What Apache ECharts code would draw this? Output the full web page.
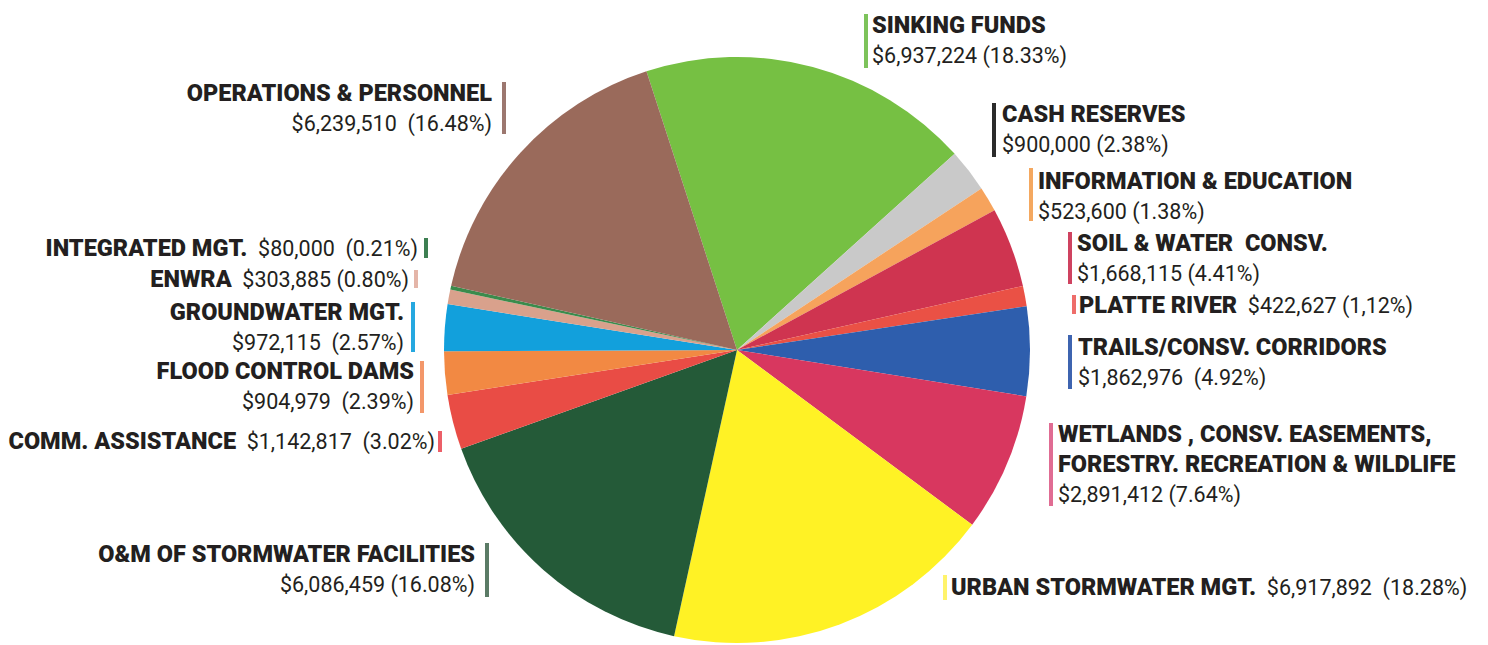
<!DOCTYPE html>
<html>
<head>
<meta charset="utf-8">
<script src="https://cdn.jsdelivr.net/npm/echarts@6/dist/echarts.min.js"></script>
<style>
html,body{margin:0;padding:0;background:#fff;}
#chart{width:1488px;height:645px;}
</style>
</head>
<body>
<div id="chart"></div>
<script>
// ---- data ----
const categories = [
  "SINKING FUNDS",
  "CASH RESERVES",
  "INFORMATION & EDUCATION",
  "SOIL & WATER  CONSV.",
  "PLATTE RIVER",
  "TRAILS/CONSV. CORRIDORS",
  "WETLANDS , CONSV. EASEMENTS,\nFORESTRY. RECREATION & WILDLIFE",
  "URBAN STORMWATER MGT.",
  "O&M OF STORMWATER FACILITIES",
  "COMM. ASSISTANCE",
  "FLOOD CONTROL DAMS",
  "GROUNDWATER MGT.",
  "ENWRA",
  "INTEGRATED MGT.",
  "OPERATIONS & PERSONNEL"
];
const amounts = [6937224, 900000, 523600, 1668115, 422627, 1862976, 2891412, 6917892, 6086459, 1142817, 904979, 972115, 303885, 80000, 6239510];
const percentLabels = ["18.33%", "2.38%", "1.38%", "4.41%", "1,12%", "4.92%", "7.64%", "18.28%", "16.08%", "3.02%", "2.39%", "2.57%", "0.80%", "0.21%", "16.48%"];
// whether the name and amount share one line
const singleLine = [false, false, false, false, true, false, false, true, false, true, false, false, true, true, false];
// gap between amount and percent as printed
const amountGaps = [" ", " ", " ", " ", " ", "  ", " ", "  ", " ", "  ", "  ", "  ", " ", "  ", "  "];

// ---- styles ----
const sliceColors = ["#76c043", "#c9c9c9", "#f6a35c", "#cf3450", "#ea5145", "#2e5ead", "#d8375f", "#fff225", "#245a38", "#e94c45", "#f28943", "#12a0dc", "#d9a18c", "#3b8b4c", "#9a6a5b"];
const barColors = ["#7dc35b", "#2b2b2b", "#f4a860", "#cf4360", "#ee6d6a", "#3e64b0", "#e06c93", "#fff36b", "#5b7b66", "#ec5f68", "#f3976a", "#26a8e0", "#e4b5a8", "#3d7f52", "#9c776f"];
// label layout: [textX, textCenterY, align, barX, barTop, barBottom]
const labelLayouts = [
  [872, 40, "left", 866, 14, 68],
  [1002, 129, "left", 994, 103, 157],
  [1038, 196, "left", 1031, 168, 221],
  [1077, 258, "left", 1070, 232, 284],
  [1079, 305, "left", 1074, 295, 314],
  [1078, 362, "left", 1070, 335, 389],
  [1058, 464, "left", 1051, 423, 506],
  [951, 587, "left", 945, 575, 600],
  [475, 569, "right", 487, 543, 597],
  [435, 441, "right", 440, 431, 452],
  [414, 386, "right", 422, 361, 413],
  [404, 327, "right", 413, 302, 352],
  [409, 279, "right", 416, 270, 288],
  [418, 248, "right", 426, 238, 258],
  [492, 108, "right", 504, 82, 134]
];

const fmt = n => "$" + n.toLocaleString("en-US");

const seriesData = categories.map((name, i) => ({
  name: name,
  value: amounts[i],
  itemStyle: { color: sliceColors[i] },
  labelLine: { lineStyle: { color: barColors[i] } }
}));

const chart = echarts.init(document.getElementById("chart"), null, { renderer: "svg" });
chart.setOption({
  backgroundColor: "#ffffff",
  animation: false,
  series: [{
    type: "pie",
    center: [737, 350],
    radius: 293,
    startAngle: 108,
    clockwise: true,
    avoidLabelOverlap: false,
    data: seriesData,
    label: {
      show: true,
      position: "outside",
      formatter: p => {
        const i = p.dataIndex;
        const title = categories[i].split("\n").map(s => "{t|" + s + "}").join("\n");
        const val = "{v|" + fmt(amounts[i]) + amountGaps[i] + "(" + percentLabels[i] + ")}";
        return singleLine[i] ? title + "{v|  }" + val : title + "\n" + val;
      },
      rich: {
        t: { fontFamily: "Roboto", fontWeight: 900, fontSize: 23.5, color: "#231f20", lineHeight: 30 },
        v: { fontFamily: "Roboto", fontWeight: 400, fontSize: 21.5, color: "#231f20", lineHeight: 30 }
      }
    },
    labelLine: { show: true, lineStyle: { width: 4, cap: "butt" }, smooth: false },
    labelLayout: params => {
      const L = labelLayouts[params.dataIndex];
      const bx = L[3], y1 = L[4], y2 = L[5];
      return {
        x: L[0],
        y: L[1],
        align: L[2],
        verticalAlign: "middle",
        labelLinePoints: [[bx, y1], [bx, (y1 + y2) / 2], [bx, y2]]
      };
    }
  }]
});
</script>
</body>
</html>
